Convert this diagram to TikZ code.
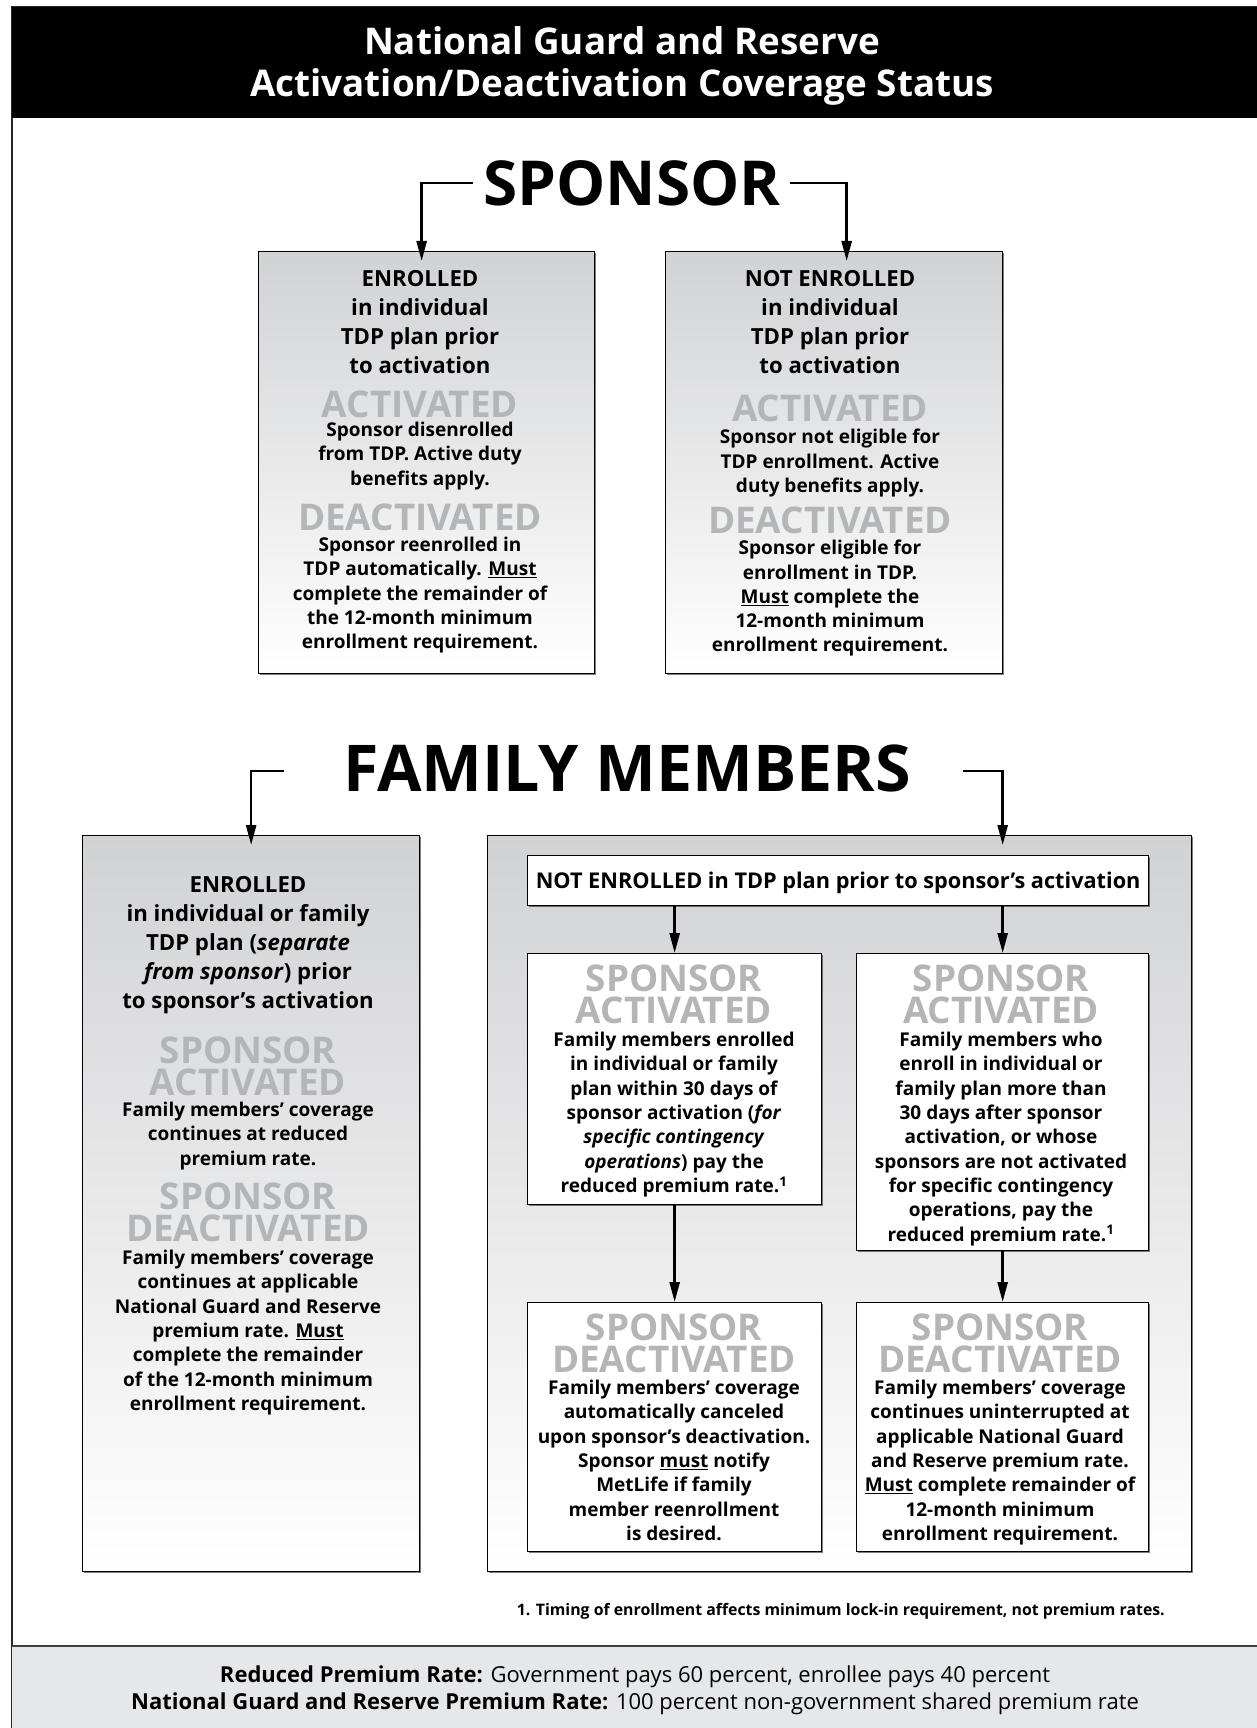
\documentclass[tikz,border=0pt]{standalone}
\usepackage{fontspec}
\setmainfont{Open Sans}
\usetikzlibrary{arrows.meta, shadows}

\definecolor{tagGray}{HTML}{B4B5B7}
\definecolor{boxTop}{HTML}{D1D2D4}
\definecolor{footGray}{HTML}{E6E7E8}

\begin{document}
\begin{tikzpicture}[
  x=1pt, y=-1pt,
  box/.style={draw, line width=1.3pt, anchor=north west, inner sep=0pt,
    drop shadow={shadow xshift=1.2pt, shadow yshift=-1.2pt, opacity=.5, fill=black}},
  gbox/.style={box, top color=boxTop, bottom color=white},
  wbox/.style={box, fill=white},
  head/.style={font=\fontsize{22.2}{29}\selectfont\bfseries, align=center, inner sep=0pt, anchor=north},
  body/.style={font=\fontsize{19}{24.3}\selectfont\bfseries, align=center, inner sep=0pt, anchor=north},
  tag/.style={font=\fontsize{36.8}{32}\selectfont\bfseries, text=tagGray, align=center, inner sep=0pt},
  big/.style={font=\fontsize{62}{62}\selectfont\bfseries, inner sep=0pt},
  arr/.style={line width=2.5pt, -{Triangle[length=20pt, width=10pt]}},
]
  \useasboundingbox (0,0) rectangle (1257,1728);

  % 外框、标题栏、底栏
  \draw[line width=1.5pt, black!85] (12,7) rectangle (1265,1735);
  \fill (12,7) rectangle (1265,118);
  \fill[footGray] (12,1646) rectangle (1265,1735);
  \draw[line width=1.5pt, black!75] (12,1646) -- (1265,1646);

  \node[font=\fontsize{36.8}{42}\selectfont\bfseries, text=white, align=center] (title) at (622,66)
    {National Guard and Reserve\\Activation/Deactivation Coverage Status};

  % SPONSOR
  \node[big] (spon) at (632,183) {SPONSOR};
  \coordinate (sponL) at (473,183);
  \coordinate (sponR) at (790,183);

  \node[gbox, minimum width=336pt, minimum height=422pt] (senr) at (258,251) {};
  \node[gbox, minimum width=337pt, minimum height=422pt] (snot) at (665,251) {};

  \draw[arr, shorten >=-10pt] (sponL) -| ([xshift=-5pt]senr.north);
  \draw[arr, shorten >=-10pt] (sponR) -| ([xshift=12.5pt]snot.north);

  \node[head] (senr-t) at (420,270) {ENROLLED\\in individual\\TDP plan prior\\to activation};
  \node[tag] (senr-a) at (420,404) {ACTIVATED};
  \node[body] (senr-ab) at (420,422) {Sponsor disenrolled\\from TDP. Active duty\\benefits apply.};
  \node[tag] (senr-d) at (420,517) {DEACTIVATED};
  \node[body] (senr-db) at (420,537) {Sponsor reenrolled in\\TDP automatically. \underline{Must}\\complete the remainder of\\the 12-month minimum\\enrollment requirement.};

  \node[head] (snot-t) at (830,270) {NOT ENROLLED\\in individual\\TDP plan prior\\to activation};
  \node[tag] (snot-a) at (830,408) {ACTIVATED};
  \node[body] (snot-ab) at (830,429) {Sponsor not eligible for\\TDP enrollment. Active\\duty benefits apply.};
  \node[tag] (snot-d) at (830,520) {DEACTIVATED};
  \node[body] (snot-db) at (830,540) {Sponsor eligible for\\enrollment in TDP.\\\underline{Must} complete the\\12-month minimum\\enrollment requirement.};

  % FAMILY MEMBERS
  \node[big, font=\fontsize{64.5}{64}\selectfont\bfseries] (fam) at (627,768) {FAMILY MEMBERS};
  \coordinate (famL) at (284,771);
  \coordinate (famR) at (963,771);

  \node[gbox, minimum width=337pt, minimum height=736pt] (fenr) at (82,835) {};
  \node[gbox, minimum width=704pt, minimum height=736pt] (fnot) at (487,835) {};
  \node[wbox, minimum width=621pt, minimum height=50pt, text depth=0pt, font=\fontsize{21.7}{24}\selectfont\bfseries] (fhead) at (527,855)
    {NOT ENROLLED in TDP plan prior to sponsor's activation};
  \node[wbox, minimum width=294pt, minimum height=251pt] (fact1) at (527,953) {};
  \node[wbox, minimum width=292pt, minimum height=297pt] (fact2) at (856,953) {};
  \node[wbox, minimum width=294pt, minimum height=249pt] (fdea1) at (527,1302) {};
  \node[wbox, minimum width=292pt, minimum height=249pt] (fdea2) at (856,1302) {};

  \draw[arr, shorten >=-10pt] (famL) -| (fenr.north);
  \draw[arr, shorten >=-10pt] (famR) -| (fact2.north |- fnot.north);
  \draw[arr] (fhead.south -| fact1.north) -- (fact1.north);
  \draw[arr] (fhead.south -| fact2.north) -- (fact2.north);
  \draw[arr] (fact1.south) -- (fdea1.north);
  \draw[arr] (fact2.south) -- (fdea2.north);

  \node[head] (fenr-t) at (248,876) {ENROLLED\\in individual or family\\TDP plan (\textit{separate}\\\textit{from sponsor}) prior\\to sponsor's activation};
  \node[tag] (fenr-a) at (248,1066) {SPONSOR\\ACTIVATED};
  \node[body] (fenr-ab) at (248,1102) {Family members' coverage\\continues at reduced\\premium rate.};
  \node[tag] (fenr-d) at (248,1212) {SPONSOR\\DEACTIVATED};
  \node[body] (fenr-db) at (248,1250) {Family members' coverage\\continues at applicable\\National Guard and Reserve\\premium rate. \underline{Must}\\complete the remainder\\of the 12-month minimum\\enrollment requirement.};

  \node[tag] (fact1-t) at (674,994) {SPONSOR\\ACTIVATED};
  \node[body] (fact1-b) at (674,1032) {Family members enrolled\\in individual or family\\plan within 30 days of\\sponsor activation (\textit{for}\\\textit{specific contingency}\\\textit{operations}) pay the\\reduced premium rate.\textsuperscript{1}};
  \node[tag] (fact2-t) at (1001,994) {SPONSOR\\ACTIVATED};
  \node[body] (fact2-b) at (1001,1032) {Family members who\\enroll in individual or\\family plan more than\\30 days after sponsor\\activation, or whose\\sponsors are not activated\\for specific contingency\\operations, pay the\\reduced premium rate.\textsuperscript{1}};

  \node[tag] (fdea1-t) at (674,1343) {SPONSOR\\DEACTIVATED};
  \node[body] (fdea1-b) at (674,1380) {Family members' coverage\\automatically canceled\\upon sponsor's deactivation.\\Sponsor \underline{must} notify\\MetLife if family\\member reenrollment\\is desired.};
  \node[tag] (fdea2-t) at (1000,1343) {SPONSOR\\DEACTIVATED};
  \node[body] (fdea2-b) at (1000,1380) {Family members' coverage\\continues uninterrupted at\\applicable National Guard\\and Reserve premium rate.\\\underline{Must} complete remainder of\\12-month minimum\\enrollment requirement.};

  % 脚注与费率说明
  \node[font=\fontsize{15.85}{18}\selectfont\bfseries, anchor=east, inner sep=0pt] (note) at (1165,1611)
    {1. Timing of enrollment affects minimum lock-in requirement, not premium rates.};
  \node[font=\fontsize{22}{27}\selectfont, align=center, inner sep=0pt] (foot) at (635,1690)
    {\textbf{Reduced Premium Rate:} Government pays 60 percent, enrollee pays 40 percent\\
     \textbf{National Guard and Reserve Premium Rate:} 100 percent non-government shared premium rate};
\end{tikzpicture}
\end{document}
